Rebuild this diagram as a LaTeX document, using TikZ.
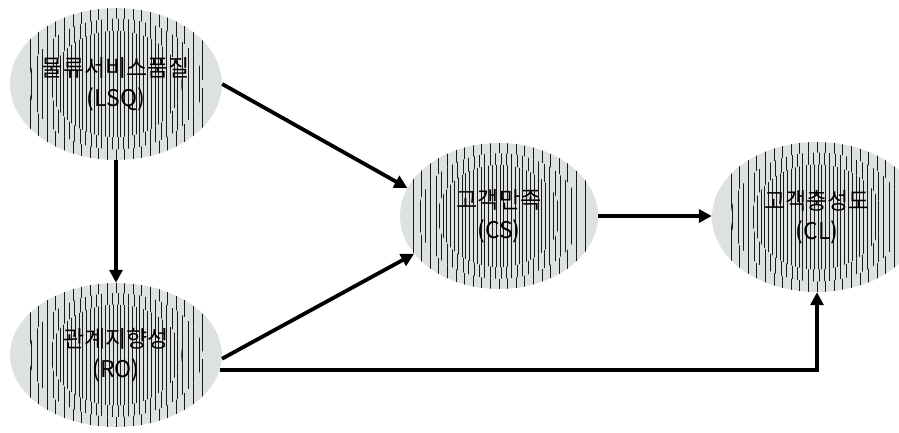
\documentclass[tikz,border=0pt]{standalone}
\usepackage{fontspec}
\newfontfamily\krfont{Noto Sans CJK KR}
\usetikzlibrary{arrows.meta,shapes.geometric,backgrounds}
\definecolor{ellfill}{RGB}{221,226,223}
\definecolor{stripecol}{RGB}{25,25,25}
\newcommand\ellBack[3]{%
  \begin{scope}
    \clip (#1.center) ellipse [x radius={#2pt}, y radius={#3pt}];
    \fill[ellfill] (#1.center) ellipse [x radius={#2pt}, y radius={#3pt}];
    \begin{scope}[shift={(#1.center)}, x=1pt, y=1pt]
      \foreach \i in {-10,...,10}{\draw[stripeline] ({\i*8.6},-#3) -- ({\i*8.6},#3);}
      \begin{scope}
        \clip (0,0) ellipse [x radius={0.82*#2}, y radius={0.86*#3}];
        \fill[ellfill] (0,0) ellipse [x radius={0.82*#2}, y radius={0.86*#3}];
        \foreach \i in {-18,...,18}{\draw[stripeline] ({\i*5.4+2},-#3) -- ({\i*5.4+2},#3);}
      \end{scope}
      \begin{scope}
        \clip (0,0) ellipse [x radius={0.62*#2}, y radius={0.70*#3}];
        \fill[ellfill] (0,0) ellipse [x radius={0.62*#2}, y radius={0.70*#3}];
        \foreach \i in {-24,...,24}{\draw[stripeline] ({\i*3.8+1},-#3) -- ({\i*3.8+1},#3);}
      \end{scope}
    \end{scope}
  \end{scope}}
\tikzset{
  stripeline/.style={draw=stripecol, line width=0.8pt},
  ell/.style 2 args={ellipse, inner sep=0pt,
    minimum width={2*#1pt}, minimum height={2*#2pt}, align=center,
    font=\krfont\fontsize{23}{30}\selectfont},
  arr/.style={line width=3.8pt, -{Triangle[length=13pt,width=13pt]}}
}
\begin{document}
\begin{tikzpicture}[x=1pt, y=-1pt]
  \useasboundingbox (0,0) rectangle (899,432);
  \node[ell={106}{76}] (lsq) at (116,84) {물류서비스품질\\(LSQ)};
  \node[ell={106}{72}] (ro) at (116,355) {관계지향성\\(RO)};
  \node[ell={99}{73}] (cs) at (499,216) {고객만족\\(CS)};
  \node[ell={105}{75}] (cl) at (817,217) {고객충성도\\(CL)};
  \begin{scope}[on background layer]
    \ellBack{lsq}{106}{76}
    \ellBack{ro}{106}{72}
    \ellBack{cs}{99}{73}
    \ellBack{cl}{105}{75}
  \end{scope}
  \draw[arr] (lsq.east) -- (cs.163);
  \draw[arr] (lsq.south) -- (ro.north);
  \draw[arr] (ro.-2) -- (cs.204);
  \draw[arr] (cs.east) -- (cs.east -| cl.west);
  \draw[arr] (ro.-8) -| (cl.south);
\end{tikzpicture}
\end{document}
